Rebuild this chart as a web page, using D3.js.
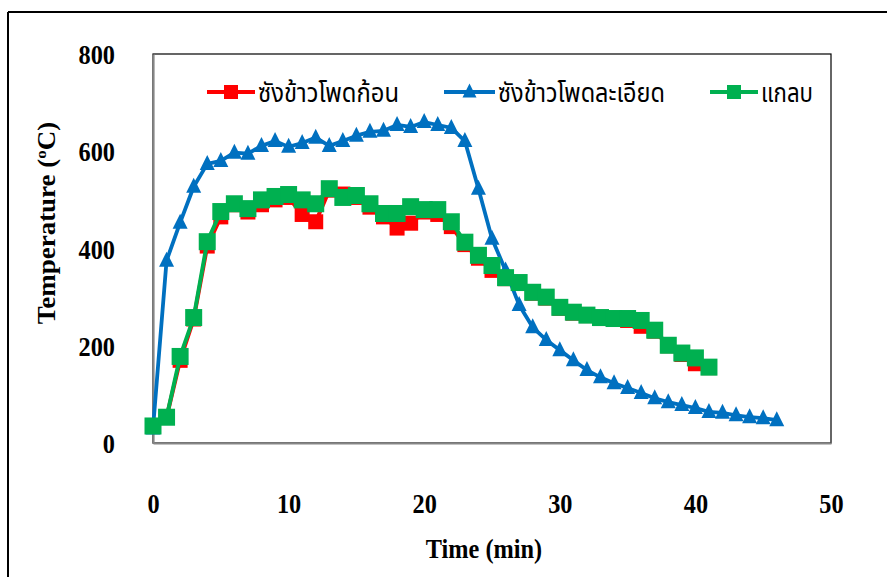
<!DOCTYPE html>
<html>
<head>
<meta charset="utf-8">
<script src="https://cdn.jsdelivr.net/npm/d3@7"></script>
<style>
  html, body { margin: 0; padding: 0; background: #fff; }
  svg { display: block; }
  .tick text { font-family: "Liberation Serif", "Times New Roman", serif; font-weight: bold; font-size: 27px; fill: #000; }
</style>
</head>
<body>
<svg id="chart" width="887" height="577"></svg>
<script>
// Time axis (minutes) for each series
const timeCorncobLump = d3.range(0, 42);   // 0..41
const timeCorncobFine = d3.range(0, 47);   // 0..46
const timeRiceHusk    = d3.range(0, 42);   // 0..41

// Temperature readings (°C)
const corncobLump = [35, 53, 170, 255, 405, 465, 490, 475, 490, 500,
                     505, 470, 455, 520, 512, 505, 485, 465, 442, 452,
                     475, 470, 445, 408, 380, 355, 338, 328, 308, 298,
                     277, 267, 262, 256, 254, 252, 240, 230, 200, 182,
                     163, 155];
const corncobFine = [30, 375, 453, 527, 574, 580, 597, 595, 611, 621,
                     609, 617, 628, 611, 621, 632, 640, 642, 654, 650,
                     660, 654, 648, 621, 523, 420, 355, 284, 238, 212,
                     191, 170, 150, 135, 123, 113, 103, 92, 84, 78,
                     72, 64, 62, 57, 53, 51, 47];
const riceHusk = [35, 53, 178, 258, 414, 476, 492, 482, 500, 507,
                  511, 500, 492, 523, 505, 509, 492, 472, 472, 486,
                  480, 480, 455, 413, 386, 365, 340, 330, 310, 300,
                  279, 269, 263, 258, 256, 256, 252, 232, 201, 185,
                  175, 156];

// Axis ticks
const xTicks = [0, 10, 20, 30, 40, 50];
const yTicks = [0, 200, 400, 600, 800];

const seriesNames = ["ซังข้าวโพดก้อน", "ซังข้าวโพดละเอียด", "แกลบ"];
const seriesColors = ["#ff0000", "#0070c0", "#00b050"];

const svg = d3.select("#chart");
const plotL = 153, plotR = 831, plotT = 54, plotB = 443;
const squeeze = 0.9;   // horizontally condensed lettering

const x = d3.scaleLinear().domain([0, 50]).range([plotL, plotR]);
const y = d3.scaleLinear().domain([0, 800]).range([plotB, plotT]);

// Outer chart frame (left and top edges visible)
svg.append("line").attr("x1", 8).attr("x2", 8).attr("y1", 12).attr("y2", 577)
  .attr("stroke", "#000").attr("stroke-width", 2);
svg.append("line").attr("x1", 8).attr("x2", 887).attr("y1", 12).attr("y2", 12)
  .attr("stroke", "#000").attr("stroke-width", 2);

// Plot area border
svg.append("rect").attr("x", plotL).attr("y", plotT)
  .attr("width", plotR - plotL).attr("height", plotB - plotT)
  .attr("fill", "none").attr("stroke", "#000").attr("stroke-width", 1.2);

// Condense a text element horizontally about its own anchor x
function condense(sel) {
  sel.each(function () {
    const t = d3.select(this);
    const ax = +t.attr("x") || 0;
    t.attr("transform", `translate(${ax},0) scale(${squeeze},1) translate(${-ax},0)`);
  });
}

// Axes
const yAxis = svg.append("g").attr("transform", `translate(${plotL},0)`)
  .call(d3.axisLeft(y).tickValues(yTicks).tickSize(0).tickPadding(38).tickFormat(d3.format("d")));
yAxis.select(".domain").attr("stroke", "#868686").attr("stroke-width", 2.2);
yAxis.selectAll(".tick text").attr("dy", "0.36em").call(condense);

const xAxis = svg.append("g").attr("transform", `translate(0,${plotB})`)
  .call(d3.axisBottom(x).tickValues(xTicks).tickSize(0).tickPadding(51).tickFormat(d3.format("d")));
xAxis.select(".domain").attr("stroke", "#868686").attr("stroke-width", 2.2);
xAxis.selectAll(".tick text").call(condense);

// Axis titles
svg.append("text")
  .attr("x", 484).attr("y", 558)
  .attr("text-anchor", "middle")
  .attr("font-family", "Liberation Serif, Times New Roman, serif")
  .attr("font-weight", "bold").attr("font-size", 27)
  .text("Time (min)")
  .call(condense);

const yTitle = svg.append("text")
  .attr("transform", `translate(55,223) scale(${squeeze},1) rotate(-90)`)
  .attr("text-anchor", "middle")
  .attr("font-family", "Liberation Serif, Times New Roman, serif")
  .attr("font-weight", "bold").attr("font-size", 27);
yTitle.append("tspan").text("Temperature (");
yTitle.append("tspan").attr("font-size", 17).attr("dy", -10).text("o");
yTitle.append("tspan").attr("dy", 10).text("C)");

// Series
const series = [
  { t: timeCorncobLump, v: corncobLump, color: seriesColors[0], marker: "square", size: 15, width: 4 },
  { t: timeCorncobFine, v: corncobFine, color: seriesColors[1], marker: "triangle", size: 15, width: 3.8 },
  { t: timeRiceHusk, v: riceHusk, color: seriesColors[2], marker: "square", size: 17, width: 4 }
];

const line = d3.line().x(d => x(d[0])).y(d => y(d[1]));

function drawMarker(g, cx, cy, s) {
  if (s.marker === "square") {
    g.append("rect").attr("x", cx - s.size / 2).attr("y", cy - s.size / 2)
      .attr("width", s.size).attr("height", s.size).attr("fill", s.color);
  } else {
    const w = s.size, h = s.size;
    g.append("path")
      .attr("d", `M${cx},${cy - h * 0.6}L${cx + w / 2},${cy + h * 0.4}L${cx - w / 2},${cy + h * 0.4}Z`)
      .attr("fill", s.color);
  }
}

series.forEach(s => {
  const pts = s.t.map((t, i) => [t, s.v[i]]);
  const g = svg.append("g");
  g.append("path").attr("d", line(pts)).attr("fill", "none")
    .attr("stroke", s.color).attr("stroke-width", s.width).attr("stroke-linejoin", "round");
  pts.forEach(p => drawMarker(g, x(p[0]), y(p[1]), s));
});

// Legend
const legendItems = [
  { x0: 207, x1: 255, tx: 258, tw: 141 },
  { x0: 444, x1: 495, tx: 498, tw: 167 },
  { x0: 710, x1: 758, tx: 761, tw: 52 }
];
legendItems.forEach((it, i) => {
  const s = series[i];
  const ly = 92;
  const g = svg.append("g");
  g.append("line").attr("x1", it.x0).attr("x2", it.x1).attr("y1", ly).attr("y2", ly)
    .attr("stroke", s.color).attr("stroke-width", s.width);
  drawMarker(g, (it.x0 + it.x1) / 2, ly, { ...s, size: s.marker === "square" ? 14 : 14 });
  g.append("text").attr("x", it.tx).attr("y", 102)
    .attr("font-family", "Noto Sans Thai, Noto Sans, DejaVu Sans, sans-serif")
    .attr("font-size", 26).attr("fill", "#000")
    .attr("textLength", it.tw).attr("lengthAdjust", "spacingAndGlyphs")
    .text(seriesNames[i]);
});
</script>
</body>
</html>
